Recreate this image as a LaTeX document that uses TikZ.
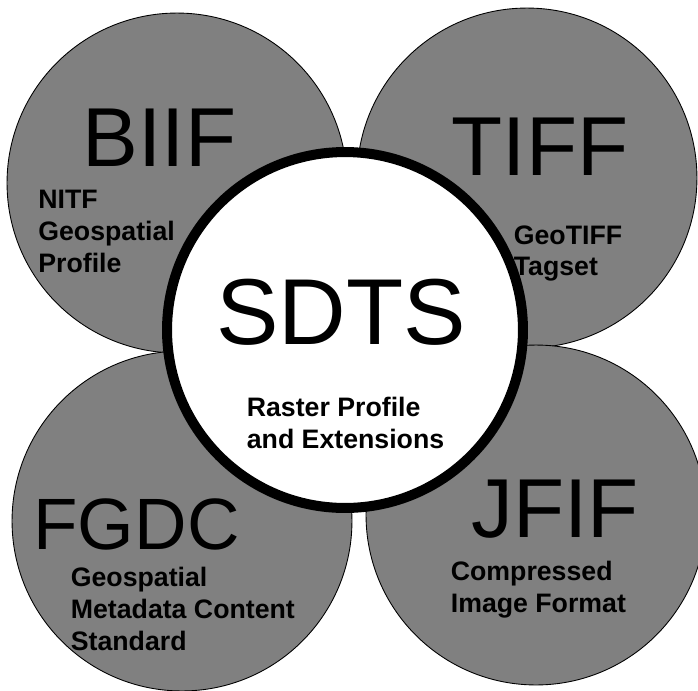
\documentclass[tikz,border=0pt]{standalone}
\usepackage{fontspec}
\setmainfont{Liberation Sans}
\usepackage{tikz}
\usetikzlibrary{
  positioning
}
\definecolor{discgray}{RGB}{128,128,128}
\tikzset{
  disc/.style={
    circle,
    draw=black,
    line width=0.5pt,
    fill=discgray,
    minimum size=6.8cm,
    inner sep=0pt,
  },
  hub/.style={
    circle,
    draw=black,
    line width=5.7pt,
    fill=white,
    minimum size=7.12cm,
    inner sep=0pt,
  },
  fmt/.style={
    font=\fontsize{47.6}{50}\selectfont,
    inner sep=0pt,
    anchor=base,
  },
  note/.style={
    font=\fontsize{15.2}{18.1}\selectfont\bfseries,
    align=left,
    inner sep=0pt,
    anchor=north west,
  },
}

\begin{document}
\begin{tikzpicture}[x=0.02cm, y=-0.02cm]
		\useasboundingbox (0,0) rectangle (698,691);

		% discs
		\node[disc] (biif) at (177,183) {};
		\node[disc] (tiff) at (527,178) {};
		\node[disc] (fgdc) at (182,521) {};
		\node[disc] (jfif) at (536,515) {};
		\node[hub] (sdts) at (345,330) {};

		% labels
		\node[fmt] (biif-name) at (159.5,166) {BIIF};
		\node[fmt] (tiff-name) at (540,175) {TIFF};
		\node[fmt, font=\fontsize{41.4}{44}\selectfont] (fgdc-name) at (136.5,549) {FGDC};
		\node[fmt] (jfif-name) at (555,537) {JFIF};
		\node[fmt, font=\fontsize{53.3}{56}\selectfont] (sdts-name) at (341,344) {SDTS};

		\node[note] (biif-note) at (38,190) {NITF\\Geospatial\\Profile};
		\node[note] (tiff-note) at (513.5,225) {GeoTIFF\\Tagset};
		\node[note] (sdts-note) at (246.5,397) {Raster Profile\\and Extensions};
		\node[note] (fgdc-note) at (70.5,567) {Geospatial\\Metadata Content\\Standard};
		\node[note] (jfif-note) at (450.5,561) {Compressed\\Image Format};
	\end{tikzpicture}
\end{document}
